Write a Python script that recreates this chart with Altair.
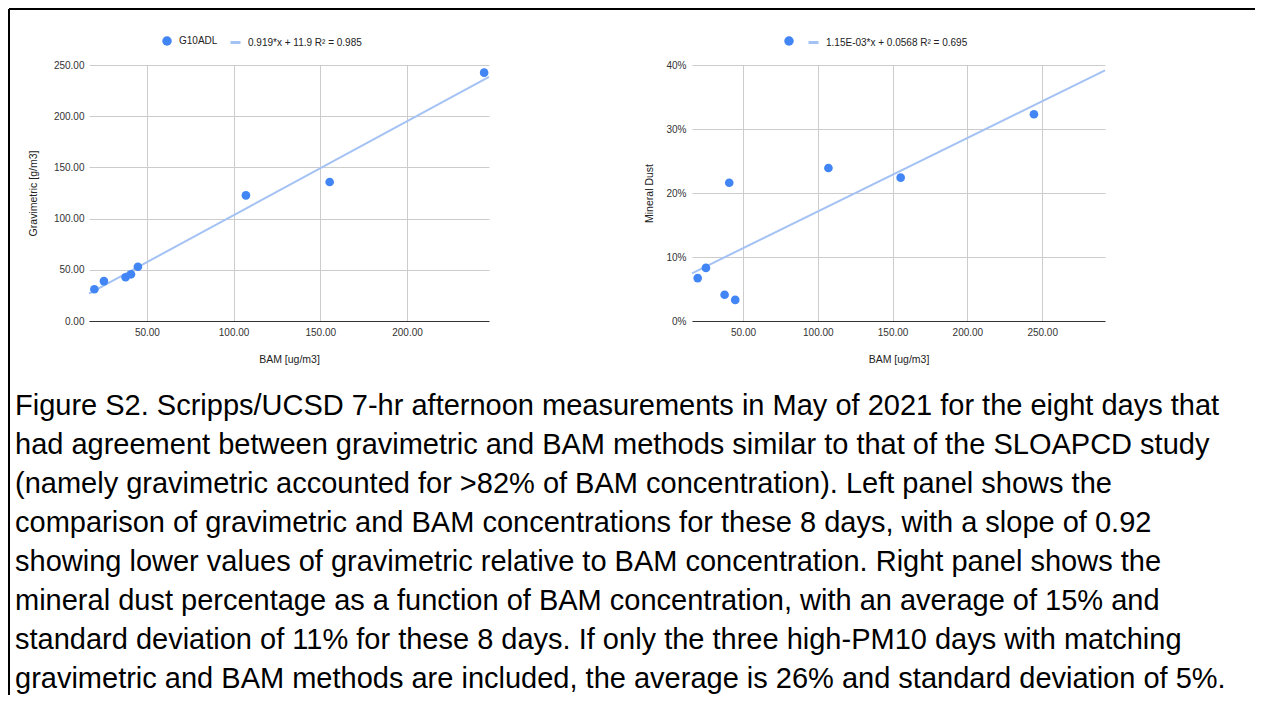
import altair as alt
import pandas as pd

# ---- data ----
bam = [19.7, 25.2, 37.7, 40.8, 44.8, 107.1, 155.4, 244.5]
gravimetric = [31.0, 39.0, 42.7, 45.6, 53.0, 122.7, 135.7, 242.5]
mineral_dust = [0.067, 0.083, 0.041, 0.216, 0.033, 0.239, 0.224, 0.323]

left_series = "G10ADL"
left_trend = "0.919*x + 11.9 R² = 0.985"
right_series = " "
right_trend = "1.15E-03*x + 0.0568 R² = 0.695"

left_x_ticks = [50, 100, 150, 200]
right_x_ticks = [50, 100, 150, 200, 250]
grav_ticks = [0, 50, 100, 150, 200, 250]
dust_ticks = [0, 0.1, 0.2, 0.3, 0.4]

caption_lines = [
    "Figure S2. Scripps/UCSD 7-hr afternoon measurements in May of 2021 for the eight days that",
    "had agreement between gravimetric and BAM methods similar to that of the SLOAPCD study",
    "(namely gravimetric accounted for >82% of BAM concentration). Left panel shows the",
    "comparison of gravimetric and BAM concentrations for these 8 days, with a slope of 0.92",
    "showing lower values of gravimetric relative to BAM concentration. Right panel shows the",
    "mineral dust percentage as a function of BAM concentration, with an average of 15% and",
    "standard deviation of 11% for these 8 days. If only the three high-PM10 days with matching",
    "gravimetric and BAM methods are included, the average is 26% and standard deviation of 5%.",
]

FONT = "Liberation Sans"
BLUE = "#4285F4"
LIGHT = "#A4C2F4"

left_df = pd.DataFrame({"BAM": bam, "Gravimetric": gravimetric,
                        "series": left_series, "trend": left_trend})
right_df = pd.DataFrame({"BAM": bam, "Dust": mineral_dust,
                         "series": right_series, "trend": right_trend})
caption_df = pd.DataFrame({"i": list(range(len(caption_lines))), "t": caption_lines})
one = pd.DataFrame({"a": [0]})


def x_enc(domain, ticks):
    return alt.X("BAM:Q", scale=alt.Scale(domain=domain, nice=False, zero=False),
                 axis=alt.Axis(values=ticks, format=".2f", title="BAM [ug/m3]",
                               domain=True, domainColor="#333333", labelPadding=6,
                               titlePadding=17))


def legend_pt(x, y):
    return alt.Legend(orient="none", legendX=x, legendY=y, title=None, symbolType="circle",
                      symbolSize=90, labelFontSize=10, labelFont=FONT, labelColor="#222222",
                      labelOffset=7, padding=0, symbolStrokeWidth=0)


def legend_ln(x, y):
    return alt.Legend(orient="none", legendX=x, legendY=y, title=None, symbolType="stroke",
                      symbolSize=100, symbolStrokeWidth=3, labelFontSize=10, labelFont=FONT,
                      labelColor="#222222", labelOffset=6, padding=0)


# ---- left panel ----
lx = x_enc([16.6, 247.3], left_x_ticks)
ly = alt.Y("Gravimetric:Q", scale=alt.Scale(domain=[0, 250], nice=False),
           axis=alt.Axis(values=grav_ticks, format=".2f", title="Gravimetric [g/m3]",
                         domain=False, labelPadding=5, titlePadding=15))

left_pts = alt.Chart(left_df).mark_circle(size=75, opacity=1).encode(
    x=lx, y=ly,
    fill=alt.Fill("series:N", scale=alt.Scale(domain=[left_series], range=[BLUE]),
                  legend=legend_pt(73, -29)),
)
left_line = alt.Chart(left_df).transform_regression(
    "BAM", "Gravimetric", groupby=["trend"], extent=[16.6, 247.3]
).mark_line(strokeWidth=2).encode(
    x=lx, y=ly,
    stroke=alt.Stroke("trend:N", scale=alt.Scale(domain=[left_trend], range=[LIGHT]),
                      legend=legend_ln(140, -29)),
)

border_top = alt.Chart(one).mark_rule(color="black", strokeWidth=2).encode(
    x=alt.value(-80), x2=alt.value(1166), y=alt.value(-56))
border_left = alt.Chart(one).mark_rule(color="black", strokeWidth=2).encode(
    x=alt.value(-80), y=alt.value(-56), y2=alt.value(630))

caption = alt.Chart(caption_df).mark_text(
    align="left", baseline="alphabetic", font=FONT, fontSize=29, color="black"
).encode(
    x=alt.value(-74),
    y=alt.Y("i:Q", scale=alt.Scale(domain=[0, 7], range=[350, 623]), axis=None),
    text="t:N",
)

left = alt.layer(
    alt.layer(left_line, left_pts), border_top, border_left, caption
).resolve_scale(y="independent", fill="independent", stroke="independent").properties(
    width=400, height=256)

# ---- right panel ----
rx = x_enc([15.9, 292.0], right_x_ticks)
ry = alt.Y("Dust:Q", scale=alt.Scale(domain=[0, 0.4], nice=False),
           axis=alt.Axis(values=dust_ticks, format=".0%", title="Mineral Dust",
                         domain=False, labelPadding=6, titlePadding=11))

right_pts = alt.Chart(right_df).mark_circle(size=75, opacity=1).encode(
    x=rx, y=ry,
    fill=alt.Fill("series:N", scale=alt.Scale(domain=[right_series], range=[BLUE]),
                  legend=legend_pt(92, -29)),
)
right_line = alt.Chart(right_df).transform_regression(
    "BAM", "Dust", groupby=["trend"], extent=[15.9, 292.0]
).mark_line(strokeWidth=2).encode(
    x=rx, y=ry,
    stroke=alt.Stroke("trend:N", scale=alt.Scale(domain=[right_trend], range=[LIGHT]),
                      legend=legend_ln(115, -29)),
)
right = alt.layer(right_line, right_pts).properties(width=413, height=256)

chart = alt.hconcat(left, right, spacing=203, bounds="flush").resolve_scale(
    fill="independent", stroke="independent"
).properties(padding=0).configure_view(stroke=None).configure_axis(
    labelFont=FONT, titleFont=FONT, labelFontSize=10, titleFontSize=10.5,
    labelColor="#333333", titleColor="#222222", titleFontWeight="normal",
    gridColor="#cccccc", ticks=False,
)

chart.save("out.html", embed_options={"renderer": "svg", "actions": False})
